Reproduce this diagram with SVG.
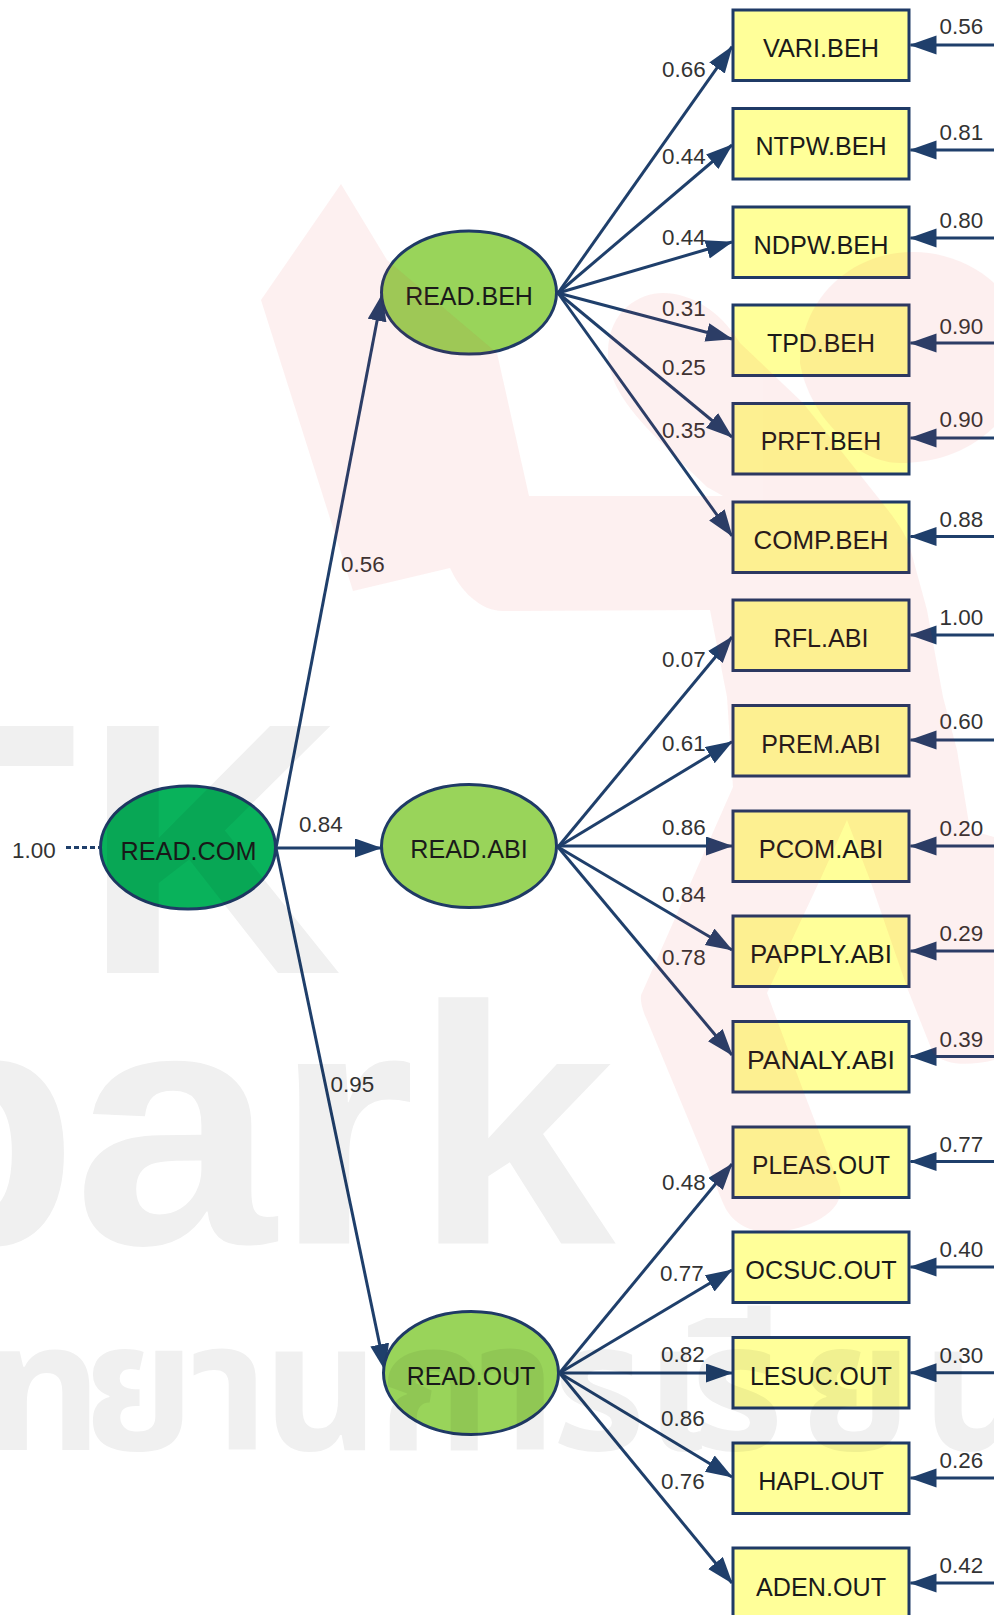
<svg xmlns="http://www.w3.org/2000/svg" width="994" height="1615" viewBox="0 0 994 1615">
<style>
.n{fill:#ffff99;stroke:#1f3a66;stroke-width:3}
.e{stroke:#1f3a66;stroke-width:3}
.c{stroke:#1f3f6b;stroke-width:3;fill:none;marker-end:url(#a)}
text{font-family:"Liberation Sans",Arial,sans-serif}
.t{font-size:25.5px;text-anchor:middle;fill:#1a1a1a}
.l{font-size:22.4px;fill:#333}
</style>
<defs><marker id="a" markerUnits="userSpaceOnUse" markerWidth="28" markerHeight="20" refX="26" refY="9.5" orient="auto"><path d="M0,0L27,9.5L0,19z" fill="#1f3f6b"/></marker></defs>
<rect width="994" height="1615" fill="#fff"/>
<g id="connectors">
<path class="c" d="M276,848L382,295"/><path class="c" d="M276,848H381"/><path class="c" d="M276,848L385,1370"/>
<path d="M66,847.5H99" stroke="#1f3f6b" stroke-width="3" stroke-dasharray="5 3" fill="none"/>
<path class="c" d="M558,293L732,46.7"/><path class="c" d="M558,293L732,145"/><path class="c" d="M558,293L732,242"/><path class="c" d="M558,293L732,339"/><path class="c" d="M558,293L732,437"/><path class="c" d="M558,293L732,536"/>
<path class="c" d="M558,847L732,637"/><path class="c" d="M558,847L732,741.7"/><path class="c" d="M558,846H732"/><path class="c" d="M558,847L732,950"/><path class="c" d="M558,847L732,1055"/>
<path class="c" d="M559.5,1373L732,1164"/><path class="c" d="M559.5,1373L732,1270"/><path class="c" d="M559.5,1373H732"/><path class="c" d="M559.5,1373L732,1477"/><path class="c" d="M559.5,1373L732,1583"/>
<path class="c" d="M994,45H910.5"/><path class="c" d="M994,150H910.5"/><path class="c" d="M994,238H910.5"/><path class="c" d="M994,343H910.5"/><path class="c" d="M994,438H910.5"/><path class="c" d="M994,536.5H910.5"/><path class="c" d="M994,635H910.5"/><path class="c" d="M994,740H910.5"/><path class="c" d="M994,846H910.5"/><path class="c" d="M994,951H910.5"/><path class="c" d="M994,1056.5H910.5"/><path class="c" d="M994,1161.5H910.5"/><path class="c" d="M994,1267H910.5"/><path class="c" d="M994,1372.7H910.5"/><path class="c" d="M994,1478H910.5"/><path class="c" d="M994,1583H910.5"/>
</g>
<g id="READ.COM"><ellipse class="e" cx="188" cy="847.5" rx="87.5" ry="61.5" fill="#09b25b"/><text class="t" x="183" y="859.6" style="text-anchor:start" dx="-62.5" textLength="136" lengthAdjust="spacingAndGlyphs">READ.COM</text></g>
<g id="READ.BEH"><ellipse class="e" cx="469" cy="292.5" rx="87.5" ry="61.5" fill="#99d45a"/><text class="t" x="469" y="305" textLength="127.7" lengthAdjust="spacingAndGlyphs">READ.BEH</text></g>
<g id="READ.ABI"><ellipse class="e" cx="469" cy="846" rx="87.5" ry="61.5" fill="#99d45a"/><text class="t" x="469" y="857.5" textLength="117.4" lengthAdjust="spacingAndGlyphs">READ.ABI</text></g>
<g id="READ.OUT"><ellipse class="e" cx="471" cy="1373" rx="87.5" ry="61.5" fill="#99d45a"/><text class="t" x="471" y="1385" textLength="128.7" lengthAdjust="spacingAndGlyphs">READ.OUT</text></g>
<g id="VARI.BEH"><rect class="n" x="733" y="10" width="176" height="70.5"/><text class="t" x="821" y="56.7" textLength="116" lengthAdjust="spacingAndGlyphs">VARI.BEH</text></g>
<g id="NTPW.BEH"><rect class="n" x="733" y="108.5" width="176" height="70.5"/><text class="t" x="821" y="155" textLength="131" lengthAdjust="spacingAndGlyphs">NTPW.BEH</text></g>
<g id="NDPW.BEH"><rect class="n" x="733" y="207" width="176" height="70.5"/><text class="t" x="821" y="253.7" textLength="135" lengthAdjust="spacingAndGlyphs">NDPW.BEH</text></g>
<g id="TPD.BEH"><rect class="n" x="733" y="305" width="176" height="70.5"/><text class="t" x="821" y="351.7" textLength="108" lengthAdjust="spacingAndGlyphs">TPD.BEH</text></g>
<g id="PRFT.BEH"><rect class="n" x="733" y="403.5" width="176" height="70.5"/><text class="t" x="821" y="450" textLength="120.5" lengthAdjust="spacingAndGlyphs">PRFT.BEH</text></g>
<g id="COMP.BEH"><rect class="n" x="733" y="502" width="176" height="70.5"/><text class="t" x="821" y="548.5" textLength="135" lengthAdjust="spacingAndGlyphs">COMP.BEH</text></g>
<g id="RFL.ABI"><rect class="n" x="733" y="600" width="176" height="70.5"/><text class="t" x="821" y="646.5" textLength="95" lengthAdjust="spacingAndGlyphs">RFL.ABI</text></g>
<g id="PREM.ABI"><rect class="n" x="733" y="705.5" width="176" height="70.5"/><text class="t" x="821" y="752.5" textLength="119.5" lengthAdjust="spacingAndGlyphs">PREM.ABI</text></g>
<g id="PCOM.ABI"><rect class="n" x="733" y="811" width="176" height="70.5"/><text class="t" x="821" y="857.5" textLength="124.6" lengthAdjust="spacingAndGlyphs">PCOM.ABI</text></g>
<g id="PAPPLY.ABI"><rect class="n" x="733" y="916" width="176" height="70.5"/><text class="t" x="821" y="962.5" textLength="142" lengthAdjust="spacingAndGlyphs">PAPPLY.ABI</text></g>
<g id="PANALY.ABI"><rect class="n" x="733" y="1021.5" width="176" height="70.5"/><text class="t" x="821" y="1068.5" textLength="148" lengthAdjust="spacingAndGlyphs">PANALY.ABI</text></g>
<g id="PLEAS.OUT"><rect class="n" x="733" y="1127" width="176" height="70.5"/><text class="t" x="821" y="1173.5" textLength="138" lengthAdjust="spacingAndGlyphs">PLEAS.OUT</text></g>
<g id="OCSUC.OUT"><rect class="n" x="733" y="1232" width="176" height="70.5"/><text class="t" x="821" y="1278.5" textLength="151.4" lengthAdjust="spacingAndGlyphs">OCSUC.OUT</text></g>
<g id="LESUC.OUT"><rect class="n" x="733" y="1337.5" width="176" height="70.5"/><text class="t" x="821" y="1384.5" textLength="142" lengthAdjust="spacingAndGlyphs">LESUC.OUT</text></g>
<g id="HAPL.OUT"><rect class="n" x="733" y="1443" width="176" height="70.5"/><text class="t" x="821" y="1489.5" textLength="125.7" lengthAdjust="spacingAndGlyphs">HAPL.OUT</text></g>
<g id="ADEN.OUT"><rect class="n" x="733" y="1548" width="176" height="70.5"/><text class="t" x="821" y="1596" textLength="130" lengthAdjust="spacingAndGlyphs">ADEN.OUT</text></g>
<g id="labels">
<text class="l" x="12" y="858">1.00</text><text class="l" x="299" y="832">0.84</text><text class="l" x="341" y="571.7">0.56</text><text class="l" x="330.6" y="1092">0.95</text>
<text class="l" x="662" y="77">0.66</text><text class="l" x="662" y="164">0.44</text><text class="l" x="662" y="245">0.44</text><text class="l" x="662" y="316">0.31</text><text class="l" x="662" y="375">0.25</text><text class="l" x="662" y="438">0.35</text>
<text class="l" x="662" y="666.7">0.07</text><text class="l" x="662" y="751">0.61</text><text class="l" x="662" y="835">0.86</text><text class="l" x="662" y="901.7">0.84</text><text class="l" x="662" y="965">0.78</text>
<text class="l" x="662" y="1190">0.48</text><text class="l" x="660" y="1281">0.77</text><text class="l" x="661" y="1361.7">0.82</text><text class="l" x="661" y="1426">0.86</text><text class="l" x="661" y="1489">0.76</text>
<text class="l" x="939.5" y="34.3">0.56</text><text class="l" x="939.5" y="140">0.81</text><text class="l" x="939.5" y="228">0.80</text><text class="l" x="939.5" y="334">0.90</text><text class="l" x="939.5" y="426.7">0.90</text><text class="l" x="939.5" y="526.7">0.88</text><text class="l" x="939.5" y="625">1.00</text><text class="l" x="939.5" y="729">0.60</text><text class="l" x="939.5" y="836">0.20</text><text class="l" x="939.5" y="940.7">0.29</text><text class="l" x="939.5" y="1046.7">0.39</text><text class="l" x="939.5" y="1151.7">0.77</text><text class="l" x="939.5" y="1257">0.40</text><text class="l" x="939.5" y="1362.7">0.30</text><text class="l" x="939.5" y="1468">0.26</text><text class="l" x="939.5" y="1572.7">0.42</text>
</g>
<g id="watermark-logo" fill="#e62a2a" opacity=".07">
<path d="M341,184L387,260L497,353L529,496L723,496L707,487C660,440 608,400 608,353C608,310 640,293 663,293C690,293 720,310 740,343L803,403L880,500C900,525 908,537 912,555L927,610L943,697L957,750L970,830L994,837L994,1060C970,1066 945,1066 933,1053L908,990L870,880L847,820L820,880L767,993L803,1090L840,1187C845,1215 800,1232 770,1232C745,1232 730,1220 723,1203L647,1020C640,1005 640,995 642,993L733,787L727,697L710,610L503,611C480,611 460,590 450,568L353,591L261,300Z"/>
<path d="M800,363C800,300 850,252 913,252C945,252 975,265 994,283V427C965,455 930,463 900,463C860,463 810,420 800,363Z"/>
</g>
<g id="watermark-text" fill="#000" opacity=".06" font-weight="700">
<text x="-142 83" y="973" font-size="359" style="font-family:'Liberation Sans',sans-serif">TK</text>
<text x="-134 68.7 256 386" y="1243.6" font-size="340" transform="scale(1.07 1)" style="font-family:'Liberation Sans',sans-serif">park</text>
<text y="1450" font-size="180" style="font-family:'Noto Sans Thai','Noto Sans',sans-serif"><tspan x="-14">ท</tspan><tspan x="83">ย</tspan><tspan x="190">า</tspan><tspan x="263">น</tspan><tspan x="378">ก</tspan><tspan x="478">า</tspan><tspan x="552">ร</tspan><tspan x="645">เ</tspan><tspan x="690">รี</tspan><tspan x="800">ย</tspan><tspan x="922">น</tspan></text>
</g>
</svg>
